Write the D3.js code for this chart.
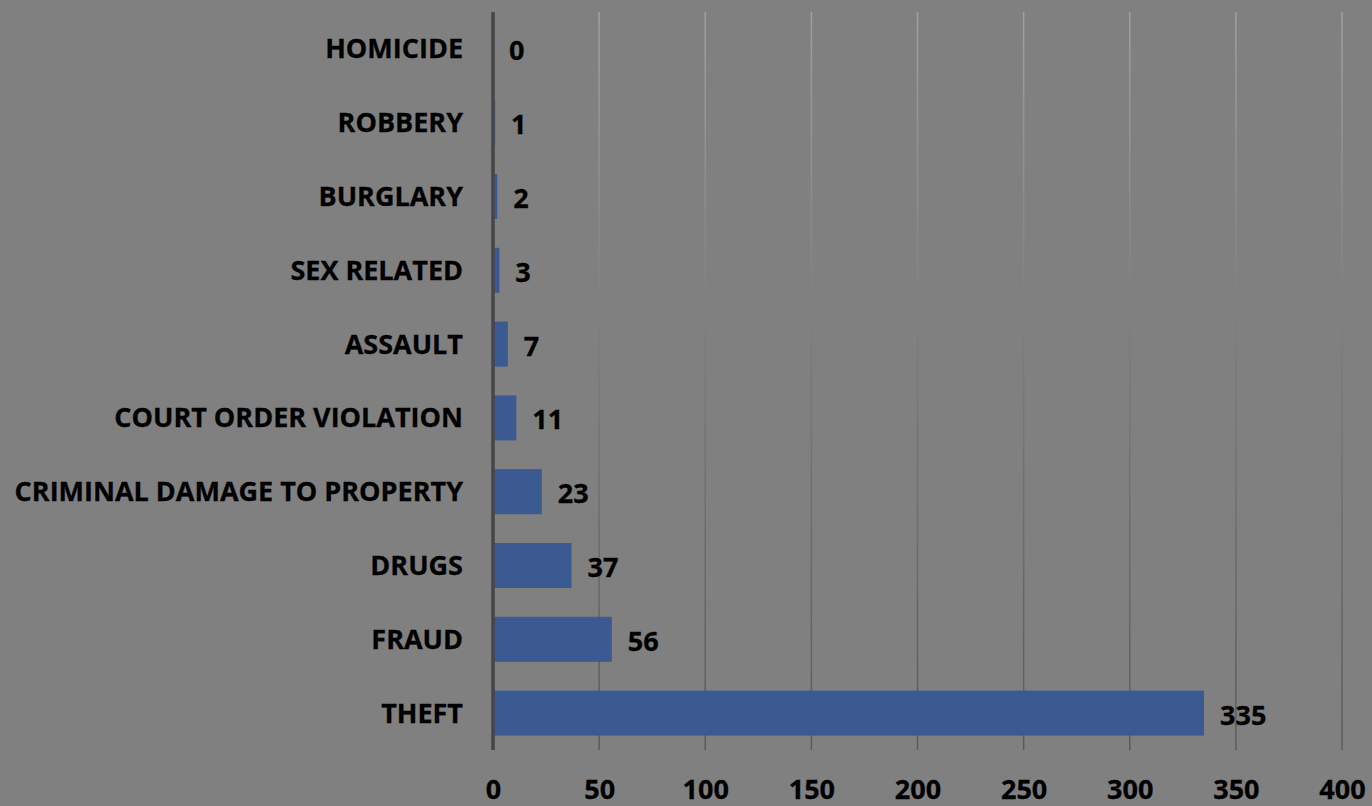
<!DOCTYPE html>
<html>
<head>
<meta charset="utf-8">
<script src="https://cdn.jsdelivr.net/npm/d3@7"></script>
<style>
  html, body { margin: 0; padding: 0; background: #808080; }
  svg { display: block; }
  text { font-family: "Open Sans", "Noto Sans", sans-serif; font-weight: bold; fill: #000; }
</style>
</head>
<body>
<svg id="chart" width="1372" height="806"></svg>
<script>
const categories = ["HOMICIDE", "ROBBERY", "BURGLARY", "SEX RELATED", "ASSAULT",
  "COURT ORDER VIOLATION", "CRIMINAL DAMAGE TO PROPERTY", "DRUGS", "FRAUD", "THEFT"];
const values = [0, 1, 2, 3, 7, 11, 23, 37, 56, 335];
const tickValues = [0, 50, 100, 150, 200, 250, 300, 350, 400];

const W = 1372, H = 806;
const margin = { left: 493, right: 30, top: 12, bottom: 56 };
const svg = d3.select("#chart");

svg.append("rect").attr("width", W).attr("height", H).attr("fill", "#808080");

const x = d3.scaleLinear().domain([0, 400]).range([margin.left, 1342]);
const y = d3.scaleBand().domain(categories).range([margin.top, H - margin.bottom]).paddingInner(0.39).paddingOuter(0.195);

const defs = svg.append("defs");
const grad = defs.append("linearGradient").attr("id", "gridGrad")
  .attr("gradientUnits", "userSpaceOnUse")
  .attr("x1", 0).attr("y1", margin.top).attr("x2", 0).attr("y2", H - margin.bottom);
grad.append("stop").attr("offset", "0%").attr("stop-color", "#a0a0a0");
grad.append("stop").attr("offset", "45%").attr("stop-color", "#7c7c7c");
grad.append("stop").attr("offset", "100%").attr("stop-color", "#5a5a5a");

// gridlines
svg.append("g").selectAll("line").data(tickValues.filter(d => d > 0)).join("line")
  .attr("x1", d => x(d)).attr("x2", d => x(d))
  .attr("y1", margin.top).attr("y2", H - margin.bottom)
  .attr("stroke", "url(#gridGrad)").attr("stroke-width", 1.5);

// bars
svg.append("g").selectAll("rect").data(values).join("rect")
  .attr("x", x(0))
  .attr("y", (d, i) => y(categories[i]))
  .attr("width", d => x(d) - x(0))
  .attr("height", y.bandwidth())
  .attr("fill", "#3b5a91");

// axis line
svg.append("line")
  .attr("x1", x(0)).attr("x2", x(0))
  .attr("y1", margin.top).attr("y2", H - margin.bottom)
  .attr("stroke", "#464646").attr("stroke-width", 3.5);

// category labels
svg.append("g").selectAll("text").data(categories).join("text")
  .attr("x", 463)
  .attr("y", d => y(d) + y.bandwidth() / 2)
  .attr("dy", "0.35em")
  .attr("text-anchor", "end")
  .attr("font-size", 27)
  .attr("stroke", "#000").attr("stroke-width", 0.3)
  .text(d => d);

// value labels
svg.append("g").selectAll("text").data(values).join("text")
  .attr("x", d => x(d) + 16)
  .attr("y", (d, i) => y(categories[i]) + y.bandwidth() / 2 + 2)
  .attr("dy", "0.35em")
  .attr("font-size", 27)
  .attr("stroke", "#000").attr("stroke-width", 0.3)
  .text(d => d);

// x axis tick labels
const xAxis = d3.axisBottom(x).tickValues(tickValues).tickSize(0).tickPadding(0);
const gx = svg.append("g").attr("transform", `translate(0, ${H - margin.bottom})`).call(xAxis);
gx.select(".domain").remove();
gx.selectAll("text")
  .attr("y", 40)
  .attr("dy", "0.35em")
  .attr("font-size", 27)
  .attr("font-family", null)
  .attr("stroke", "#000").attr("stroke-width", 0.3)
  .attr("fill", "#000");
</script>
</body>
</html>
